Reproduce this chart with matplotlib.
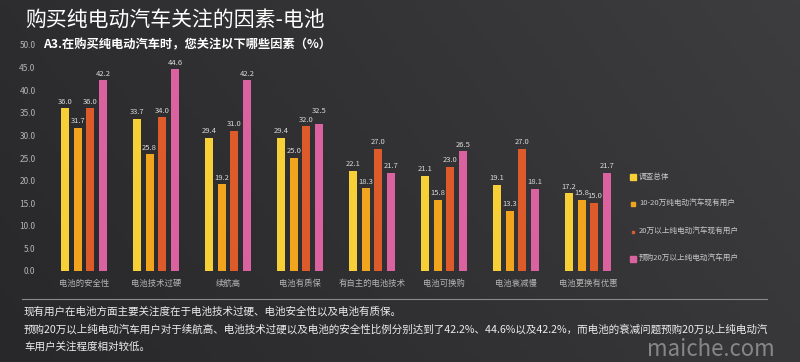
import matplotlib
matplotlib.use('Agg')
import matplotlib.pyplot as plt
import numpy as np
from matplotlib.colors import LinearSegmentedColormap

plt.rcParams['font.family'] = ['Noto Sans CJK SC', 'DejaVu Sans']

categories = ['电池的安全性', '电池技术过硬', '续航高', '电池有质保',
              '有自主的电池技术', '电池可换购', '电池衰减慢', '电池更换有优惠']
series_names = ['调查总体', '10-20万纯电动汽车现有用户',
                '20万以上纯电动汽车现有用户', '预购20万以上纯电动汽车用户']
total = [36.0, 33.7, 29.4, 29.4, 22.1, 21.1, 19.1, 17.2]
users_10_20 = [31.7, 25.8, 19.2, 25.0, 18.3, 15.8, 13.3, 15.8]
users_20_up = [36.0, 34.0, 31.0, 32.0, 27.0, 23.0, 27.0, 15.0]
preorder_20_up = [42.2, 44.6, 42.2, 32.5, 21.7, 26.5, 18.1, 21.7]
colors = ['#f7d038', '#f1a51f', '#dd5a2a', '#d9629f']
yticks = [0, 5, 10, 15, 20, 25, 30, 35, 40, 45, 50]

title = '购买纯电动汽车关注的因素-电池'
subtitle = 'A3.在购买纯电动汽车时，您关注以下哪些因素（%）'
notes = ['现有用户在电池方面主要关注度在于电池技术过硬、电池安全性以及电池有质保。',
         '预购20万以上纯电动汽车用户对于续航高、电池技术过硬以及电池的安全性比例分别达到了42.2%、44.6%以及42.2%，而电池的衰减问题预购20万以上纯电动汽',
         '车用户关注程度相对较低。']

bg = '#303032'
fig = plt.figure(figsize=(8, 3.62), dpi=100, facecolor=bg)

# soft gradient background, darker on the left
bgax = fig.add_axes([0, 0, 1, 1], zorder=-10)
cmap = LinearSegmentedColormap.from_list('bg', ['#28282a', '#323234', '#3d3d3f'])
gx, gy = np.meshgrid(np.linspace(0, 1, 200), np.linspace(0, 1, 100))
bgax.imshow(0.75 * gx + 0.25 * gy, cmap=cmap, aspect='auto', extent=[0, 1, 0, 1], origin='lower')
bgax.axis('off')

ax = fig.add_axes([48 / 800, 1 - 271 / 362, 576 / 800, 226 / 362])
ax.set_facecolor('none')

x = np.arange(len(categories))
step = 0.176
width = 0.115
all_series = [total, users_10_20, users_20_up, preorder_20_up]
for i, vals in enumerate(all_series):
    pos = x + (i - 1.5) * step
    bars = ax.bar(pos, vals, width, color=colors[i], label=series_names[i])
    for j, (b, v) in enumerate(zip(bars, vals)):
        off = 0.6
        # lift a label if the bar to its left is almost the same height
        if i > 0 and 0 <= v - all_series[i - 1][j] < 1.5:
            off += 1.5
        ax.text(b.get_x() + b.get_width() / 2, v + off, f'{v:.1f}',
                ha='center', va='bottom', fontsize=5.5, color='#d8d8d8')

ax.set_xlim(-0.5, len(categories) - 0.5)
ax.set_ylim(0, 50)
ax.set_yticks(yticks)
ax.set_yticklabels([f'{t:.1f}' for t in yticks])
ax.set_xticks(x)
ax.set_xticklabels(categories)
ax.tick_params(axis='both', length=0, colors='#b4b4b4', labelsize=6)
ax.tick_params(axis='y', pad=9)
ax.tick_params(axis='x', pad=6)
for s in ax.spines.values():
    s.set_visible(False)

# legend
leg_y = [177, 204, 232, 259]
msizes = [4.5, 3, 2, 4.5]
for i, name in enumerate(series_names):
    fy = 1 - leg_y[i] / 362
    fig.lines.append(plt.Line2D([633 / 800], [fy], marker='s', markersize=msizes[i],
                                color=colors[i], linestyle='none',
                                transform=fig.transFigure))
    fig.text(639 / 800, fy, name, fontsize=5.5, color='#c8c8c8', va='center', ha='left')

fig.text(25 / 800, 1 - 20 / 362, title, fontsize=15, color='white', va='center', ha='left')
fig.text(43 / 800, 1 - 45 / 362, subtitle, fontsize=8.8, color='white',
         fontweight='bold', va='center', ha='left')

fig.lines.append(plt.Line2D([22 / 800, 767 / 800], [1 - 299 / 362, 1 - 299 / 362],
                            color='#8a8a8a', linewidth=0.8, transform=fig.transFigure))
for yy, line in zip([311, 329, 347], notes):
    fig.text(24 / 800, 1 - yy / 362, line, fontsize=7.6, color='#ececec',
             va='center', ha='left')

fig.text(711 / 800, 1 - 350 / 362, 'maiche.com', fontsize=16, color='#bdbdbd',
         alpha=0.6, va='center', ha='center')

fig.savefig('out.png', dpi=100, facecolor=bg)
